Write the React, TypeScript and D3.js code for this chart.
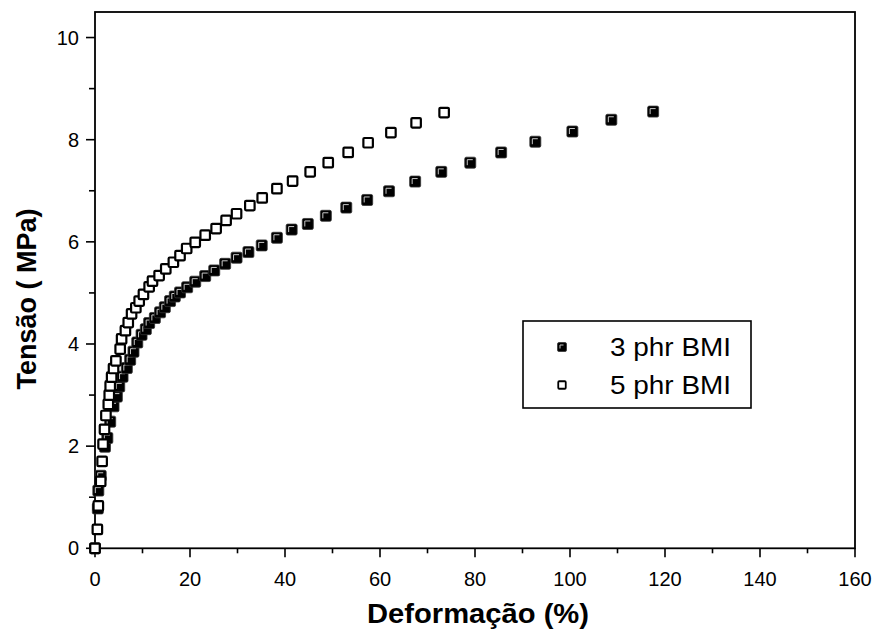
import React from "react";
import * as d3 from "d3";

const strain3 = [0, 0.6, 0.7, 1.2, 2.1, 2.6, 3.2, 3.9, 4.6, 5.1, 5.8, 6.7, 7.4, 8.1, 8.9, 9.8, 10.7, 11.4, 12.6, 13.7, 14.7, 15.8, 16.8, 17.9, 19.4, 21.1, 23.2, 25.1, 27.4, 29.8, 32.3, 35.1, 38.3, 41.4, 44.8, 48.6, 52.9, 57.3, 61.9, 67.4, 72.9, 79.0, 85.5, 92.7, 100.5, 108.7, 117.5];
const stress3 = [0, 0.78, 1.13, 1.42, 1.99, 2.16, 2.48, 2.78, 2.97, 3.17, 3.36, 3.53, 3.69, 3.85, 4.03, 4.18, 4.29, 4.41, 4.51, 4.62, 4.72, 4.84, 4.93, 5.01, 5.11, 5.22, 5.33, 5.44, 5.57, 5.69, 5.80, 5.93, 6.08, 6.24, 6.35, 6.51, 6.67, 6.82, 6.99, 7.18, 7.37, 7.55, 7.75, 7.96, 8.16, 8.39, 8.55];

const strain5 = [0, 0.5, 0.7, 1.2, 1.5, 1.7, 2.0, 2.3, 2.8, 3.0, 3.2, 3.5, 3.9, 4.4, 5.3, 5.6, 6.4, 7.0, 7.7, 8.6, 9.3, 10.2, 11.4, 12.1, 13.5, 14.9, 16.5, 17.9, 19.3, 21.1, 23.2, 25.5, 27.6, 29.8, 32.6, 35.2, 38.3, 41.6, 45.3, 49.1, 53.3, 57.5, 62.3, 67.6, 73.5];
const stress5 = [0, 0.37, 0.83, 1.31, 1.70, 2.04, 2.33, 2.60, 2.82, 3.0, 3.18, 3.35, 3.52, 3.67, 3.90, 4.10, 4.26, 4.42, 4.59, 4.71, 4.84, 4.97, 5.12, 5.23, 5.34, 5.47, 5.60, 5.73, 5.87, 5.99, 6.13, 6.26, 6.42, 6.55, 6.71, 6.86, 7.04, 7.19, 7.37, 7.55, 7.75, 7.94, 8.14, 8.33, 8.53];

const xMajor = [0, 20, 40, 60, 80, 100, 120, 140, 160];
const xMinor = [10, 30, 50, 70, 90, 110, 130, 150];
const yMajor = [0, 2, 4, 6, 8, 10];
const yMinor = [1, 3, 5, 7, 9];
const seriesNames = ["3 phr BMI", "5 phr BMI"];

const W = 873, H = 637;
const L = 95, R = 855, T = 12, B = 548.3;
const FONT = "'Liberation Sans', Arial, sans-serif";

const x = d3.scaleLinear().domain([0, 160]).range([L, R]);
const y = d3.scaleLinear().domain([0, 10.5]).range([B, T]);

function Filled({ cx, cy, s }: { cx: number; cy: number; s: number }) {
  const h = s / 2;
  return (
    <g>
      <rect x={cx - h} y={cy - h} width={s} height={s} rx={1.5} fill="#000" stroke="#333" strokeWidth={0.8} />
      <path d={`M${cx - h + 2.5},${cy + h - 3} V${cy - h + 2.5} H${cx + h - 3}`} fill="none" stroke="#c8c8c8" strokeWidth={1} />
    </g>
  );
}

function Open({ cx, cy, s, sw }: { cx: number; cy: number; s: number; sw: number }) {
  const h = s / 2;
  return <rect x={cx - h} y={cy - h} width={s} height={s} rx={1} fill="#fff" stroke="#000" strokeWidth={sw} />;
}

export default function App() {
  return (
    <svg width={W} height={H} style={{ position: "absolute", left: 0, top: 0, background: "#fff" }} fontFamily={FONT}>
      <rect x={0} y={0} width={W} height={H} fill="#fff" />
      <rect x={L} y={T} width={R - L} height={B - T} fill="none" stroke="#000" strokeWidth={1.8} />
      {xMajor.map((v) => (
        <g key={"xm" + v}>
          <line x1={x(v)} x2={x(v)} y1={B} y2={B + 9} stroke="#000" strokeWidth={1.6} />
          <text x={x(v)} y={586} textAnchor="middle" fontSize={20}>{v}</text>
        </g>
      ))}
      {xMinor.map((v) => (
        <line key={"xn" + v} x1={x(v)} x2={x(v)} y1={B} y2={B + 5} stroke="#000" strokeWidth={1.6} />
      ))}
      {yMajor.map((v) => (
        <g key={"ym" + v}>
          <line x1={L - 9} x2={L} y1={y(v)} y2={y(v)} stroke="#000" strokeWidth={1.6} />
          <text x={79} y={y(v) + 7} textAnchor="end" fontSize={20}>{v}</text>
        </g>
      ))}
      {yMinor.map((v) => (
        <line key={"yn" + v} x1={L - 6} x2={L} y1={y(v)} y2={y(v)} stroke="#000" strokeWidth={1.6} />
      ))}
      {strain3.map((v, i) => (
        <Filled key={"f" + i} cx={x(v)} cy={y(stress3[i])} s={11} />
      ))}
      {strain5.map((v, i) => (
        <Open key={"o" + i} cx={x(v)} cy={y(stress5[i])} s={9.5} sw={2.2} />
      ))}
      <rect x={523} y={321} width={228} height={87} fill="#fff" stroke="#000" strokeWidth={1.6} />
      <Filled cx={562} cy={347} s={9} />
      <Open cx={562} cy={385} s={7.5} sw={1.8} />
      <text x={610} y={355.5} fontSize={25} textLength={121} lengthAdjust="spacingAndGlyphs">{seriesNames[0]}</text>
      <text x={610} y={393.5} fontSize={25} textLength={121} lengthAdjust="spacingAndGlyphs">{seriesNames[1]}</text>
      <text x={478} y={623} textAnchor="middle" fontSize={27} fontWeight="bold" textLength={222} lengthAdjust="spacingAndGlyphs">Deformação (%)</text>
      <text transform="translate(36,299) rotate(-90)" textAnchor="middle" fontSize={27} fontWeight="bold">Tensão ( MPa)</text>
    </svg>
  );
}
